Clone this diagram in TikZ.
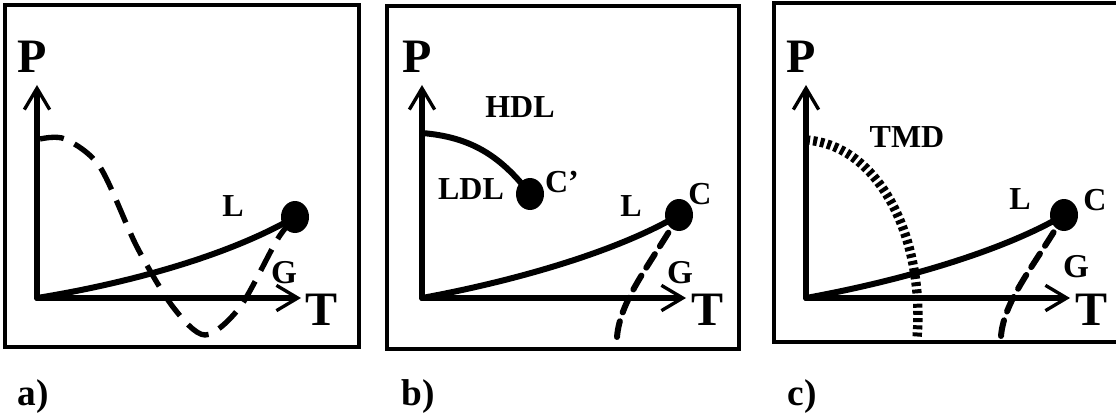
\documentclass[tikz,border=0pt]{standalone}
\usepackage{fontspec}
\setmainfont{Liberation Serif}
\usetikzlibrary{arrows.meta}
\tikzset{
  >={Straight Barb[length=16pt,width=19pt,line width=2.5pt]},
  frame/.style={line width=3pt},
  axis/.style={line width=4pt,line join=round},
  liquid/.style={line width=4.5pt,line cap=round},
  spina/.style={line width=4pt,dash pattern=on 18pt off 9pt},
  spinb/.style={line width=4.5pt,line cap=round,dash pattern=on 12pt off 7pt},
  tmd/.style={line width=7pt,dash pattern=on 3pt off 2.4pt},
  axlbl/.style={font=\fontsize{36pt}{38pt}\selectfont\bfseries,inner sep=0pt},
  lbl/.style={font=\fontsize{24pt}{26pt}\selectfont\bfseries,inner sep=0pt},
  caplbl/.style={font=\fontsize{28pt}{30pt}\selectfont\bfseries,inner sep=0pt}
}
\begin{document}
\begin{tikzpicture}[x=0.75pt,y=-0.75pt]
\useasboundingbox (0,0) rectangle (1116,417);
% frames
\draw[frame] (5,5) rectangle (359,347);
\draw[frame] (387,6) rectangle (739,349);
\draw[frame] (774,3) rectangle (1121,342);
% axes P-T
\foreach \ox/\p in {37/a,422/b,806/c}{
  \draw[axis,<->] (\ox,85) -- (\ox,298) -- (\ox+264,298);
  \node[axlbl] (P-\p) at (\ox-5,57) {P};
  \node[axlbl] (T-\p) at (\ox+285,310) {T};
  \node[caplbl] (cap-\p) at (\ox-4,397) {\p)};
}
% a)
\coordinate (Ca) at (295,217);
\draw[liquid] (37,298) .. controls (130,283) and (230,255) .. (Ca);
\draw[spina] plot[smooth] coordinates {(40,139) (65,139) (100,167) (137,247) (173,307) (205,335) (240,307) (277,240) (Ca)};
\fill (Ca) ellipse [x radius=14,y radius=16];
\node[lbl] (L-a) at (233,206) {L};
\node[lbl,font=\fontsize{25pt}{27pt}\selectfont\bfseries] (G-a) at (284,273) {G};
% b)
\coordinate (Cp) at (530,194);
\coordinate (Cb) at (679,215);
\draw[liquid] (422,133) .. controls (470,137) and (500,155) .. (Cp);
\draw[liquid] (422,298) .. controls (520,280) and (620,250) .. (Cb);
\draw[spinb] (617,337) .. controls (620,300) and (650,265) .. (Cb);
\fill (Cp) ellipse [x radius=14,y radius=16];
\fill (Cb) ellipse [x radius=14,y radius=16];
\node[lbl] (HDL) at (520,107) {HDL};
\node[lbl] (LDL) at (471,189) {LDL};
\node[lbl] (Cp-lbl) at (562,182) {C’};
\node[lbl] (L-b) at (631,206) {L};
\node[lbl] (C-b) at (700,194) {C};
\node[lbl,font=\fontsize{25pt}{27pt}\selectfont\bfseries] (G-b) at (680,273) {G};
% c)
\coordinate (Cc) at (1064,215);
\draw[tmd] (806,140) .. controls (880,145) and (925,240) .. (917,338);
\draw[liquid] (806,298) .. controls (905,280) and (1005,250) .. (Cc);
\draw[spinb] (1001,336) .. controls (1004,300) and (1035,265) .. (Cc);
\fill (Cc) ellipse [x radius=14,y radius=16];
\node[lbl] (TMD) at (907,137) {TMD};
\node[lbl] (L-c) at (1020,199) {L};
\node[lbl] (C-c) at (1095,200) {C};
\node[lbl,font=\fontsize{25pt}{27pt}\selectfont\bfseries] (G-c) at (1076,267) {G};
\end{tikzpicture}
\end{document}
